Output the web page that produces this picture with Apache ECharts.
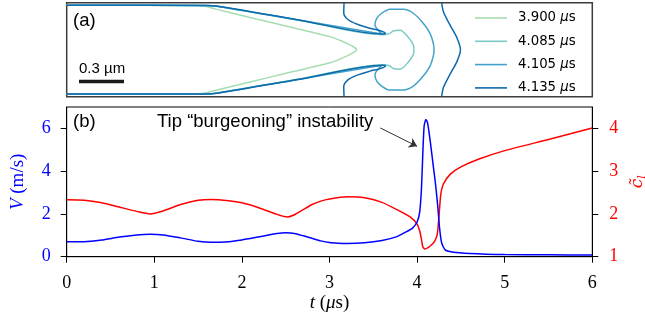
<!DOCTYPE html>
<html lang="en">
<head>
    <meta charset="UTF-8">
    <title>Tip burgeoning instability</title>
    <script src="https://cdn.jsdelivr.net/npm/echarts@6/dist/echarts.min.js"></script>
</head>
<body style="margin:0">
    <div id="echarts" style="width:645px;height:322px"></div>
<script>
    // ---- (b) crack speed V and c~_l against t (us)
    const vTime = [0, 0.2, 0.4, 0.6, 0.8, 0.95, 1.1, 1.3, 1.5, 1.65, 1.85, 2.0, 2.2, 2.4, 2.5, 2.6, 2.7, 2.8, 2.9, 3.0, 3.1, 3.2, 3.4, 3.6, 3.77, 3.88, 3.95, 4.0, 4.03, 4.05, 4.065, 4.08, 4.1, 4.12, 4.15, 4.18, 4.21, 4.235, 4.255, 4.28, 4.32, 4.4, 4.6, 5.0, 5.5, 6.0];
    const vSpeed = [0.70, 0.70, 0.78, 0.92, 1.02, 1.05, 1.02, 0.88, 0.72, 0.67, 0.70, 0.78, 0.93, 1.08, 1.12, 1.09, 0.98, 0.86, 0.74, 0.66, 0.63, 0.62, 0.65, 0.76, 0.94, 1.17, 1.35, 1.62, 2.1, 3.2, 4.8, 6.1, 6.42, 6.25, 5.4, 4.4, 3.4, 2.4, 1.4, 0.65, 0.32, 0.22, 0.15, 0.10, 0.09, 0.08];
    const cTime = [0, 0.2, 0.4, 0.6, 0.8, 0.95, 1.1, 1.3, 1.5, 1.65, 1.85, 2.0, 2.2, 2.4, 2.52, 2.6, 2.7, 2.8, 2.9, 3.0, 3.2, 3.4, 3.6, 3.77, 3.92, 4.0, 4.03, 4.05, 4.065, 4.09, 4.15, 4.2, 4.23, 4.25, 4.27, 4.3, 4.38, 4.5, 4.7, 5.0, 5.5, 6.0];
    const cTilde = [2.33, 2.32, 2.26, 2.16, 2.06, 2.0, 2.07, 2.22, 2.32, 2.34, 2.31, 2.26, 2.14, 1.99, 1.93, 1.98, 2.10, 2.22, 2.30, 2.35, 2.40, 2.38, 2.27, 2.10, 1.93, 1.76, 1.60, 1.40, 1.23, 1.18, 1.25, 1.36, 1.52, 1.95, 2.45, 2.70, 2.93, 3.10, 3.28, 3.48, 3.74, 4.01];
    const timeTicks = [0, 1, 2, 3, 4, 5, 6];
    const speedTicks = [0, 2, 4, 6];
    const cTicks = [1, 2, 3, 4];
    // arrow of the annotation, [t, V]
    const arrowFrom = [3.58, 6.02];
    const arrowTo = [4.0, 5.16];

    // ---- (a) crack contours, upper half in um (lower half is the mirror image)
    const contourTimes = ['3.900 μs', '4.085 μs', '4.105 μs', '4.135 μs'];
    const contourColors = ['#a6dcb2', '#7bccc4', '#43a2ca', '#0d6aad'];
    const c3900Upper = [[0, 0.296], [0.855, 0.295], [0.922, 0.289], [0.989, 0.272], [1.222, 0.215], [1.489, 0.151], [1.755, 0.087], [1.844, 0.053], [1.902, 0.025], [1.933, 0]];
    const c4085Upper = [[0, 0.296], [0.93, 0.295], [1.0, 0.289], [1.555, 0.195], [2.115, 0.100], [2.155, 0.109], [2.177, 0.125], [2.222, 0.130], [2.277, 0.083], [2.311, 0.031], [2.315, 0]];
    const c4105Upper = [[0, 0.296], [0.93, 0.295], [1.0, 0.290], [1.555, 0.196], [2.102, 0.104], [2.075, 0.131], [2.055, 0.165], [2.067, 0.209], [2.1, 0.243], [2.155, 0.269], [2.244, 0.269], [2.311, 0.243], [2.377, 0.176], [2.422, 0.109], [2.444, 0.043], [2.449, 0]];
    const c4135Upper = [[0, 0.296], [0.93, 0.295], [1.0, 0.291], [1.555, 0.197], [2.11, 0.104], [2.125, 0.108], [2.09, 0.126], [2.022, 0.143], [1.933, 0.171], [1.875, 0.201], [1.847, 0.245], [1.849, 0.313]];
    const c4135Front = [[2.5, 0.313], [2.512, 0.251], [2.555, 0.165], [2.602, 0.078], [2.625, 0]];
    const scaleBarX = [0.082, 0.382];
    const scaleBarY = -0.212;
    const panelA = { width: 3.504, half: 0.3133 };

    const mirror = pts => pts.map(p => [p[0], -p[1]]);
    const closeProfile = upper => upper.concat(mirror(upper.slice(0, -1)).reverse());
    const pairs = (xs, ys) => xs.map((x, i) => [x, ys[i]]);

    const serif = 'Liberation Serif';
    const sans = 'Liberation Sans';
    const blue = '#0000ff';
    const red = '#ff0000';

    function contour(name, data) {
        const color = contourColors[contourTimes.indexOf(name)];
        return {
            name: name, type: 'line', xAxisIndex: 1, yAxisIndex: 2,
            data: data, color: color, symbol: 'none', smooth: 0.3,
            lineStyle: { color: color, width: 1.5 }, silent: true
        };
    }

    let myChart = echarts.init(document.getElementById('echarts'));

    let option = {
        animation: false,
        grid: [
            { left: 66.7, top: 107, width: 525.6, height: 149.7, show: true, borderColor: '#000', borderWidth: 1, outerBoundsMode: 'none', containLabel: false },
            { left: 66.7, top: 2.7, width: 525.6, height: 94, show: true, borderColor: '#3c3c3c', borderWidth: 1.5, outerBoundsMode: 'none', containLabel: false }
        ],
        legend: {
            data: contourTimes,
            left: 470, top: 6, orient: 'vertical',
            icon: 'rect', itemWidth: 32, itemHeight: 1.6, itemGap: 9.3,
            selectedMode: false,
            formatter: n => n.replace('μ', '{i|μ}'),
            textStyle: {
                fontFamily: 'DejaVu Sans', fontSize: 13.3, color: '#000', lineHeight: 14,
                padding: [0, 0, 0, 6],
                rich: { i: { fontFamily: 'DejaVu Sans', fontStyle: 'italic', fontSize: 13.3, color: '#000' } }
            }
        },
        xAxis: [
            {
                gridIndex: 0, type: 'value', min: 0, max: 6, interval: 1,
                axisLine: { lineStyle: { color: '#000', width: 1 } },
                axisTick: { customValues: timeTicks, length: 6, lineStyle: { color: '#000' } },
                axisLabel: { customValues: timeTicks, margin: 18, color: '#000', fontFamily: serif, fontSize: 18 },
                splitLine: { show: false },
                name: '{i|t} ({i|μ}s)', nameLocation: 'middle', nameGap: 37,
                nameTextStyle: {
                    fontFamily: serif, fontSize: 19, color: '#000',
                    rich: { i: { fontFamily: serif, fontStyle: 'italic', fontSize: 19, color: '#000' } }
                }
            },
            { gridIndex: 1, type: 'value', min: 0, max: panelA.width, show: false }
        ],
        yAxis: [
            {
                gridIndex: 0, type: 'value', min: 0, max: 7, interval: 2, position: 'left',
                axisLine: { show: true, lineStyle: { color: '#000', width: 1 } },
                axisTick: { show: true, customValues: speedTicks, length: 6, lineStyle: { color: '#000' } },
                axisLabel: { customValues: speedTicks, margin: 16, color: blue, fontFamily: serif, fontSize: 18 },
                splitLine: { show: false },
                name: '{i|V} (m/s)', nameLocation: 'middle', nameGap: 39, nameRotate: 90,
                nameTextStyle: {
                    fontFamily: serif, fontSize: 19, color: blue,
                    rich: { i: { fontFamily: serif, fontStyle: 'italic', fontSize: 19, color: blue } }
                }
            },
            {
                gridIndex: 0, type: 'value', min: 1, max: 4.5, interval: 1, position: 'right',
                axisLine: { show: true, lineStyle: { color: '#000', width: 1 } },
                axisTick: { show: true, customValues: cTicks, length: 6, lineStyle: { color: '#000' } },
                axisLabel: { customValues: cTicks, margin: 17, color: red, fontFamily: serif, fontSize: 18 },
                splitLine: { show: false },
                name: '{i|c\u0303}{s|l}', nameLocation: 'middle', nameGap: 34, nameRotate: 90,
                nameTextStyle: {
                    color: red,
                    rich: {
                        i: { fontFamily: 'DejaVu Serif', fontStyle: 'italic', fontSize: 17, color: red },
                        s: { fontFamily: 'DejaVu Serif', fontStyle: 'italic', fontSize: 11, color: red, padding: [9, 0, 0, 0] }
                    }
                }
            },
            { gridIndex: 1, type: 'value', min: -panelA.half, max: panelA.half, show: false }
        ],
        graphic: [
            { type: 'text', x: 73, y: 20.5, style: { text: '(a)', fontFamily: sans, fontSize: 18.5, fill: '#000', verticalAlign: 'middle' } },
            { type: 'text', x: 79, y: 69, style: { text: '0.3 µm', fontFamily: sans, fontSize: 15, fill: '#000', verticalAlign: 'middle' } },
            { type: 'text', x: 73, y: 122, style: { text: '(b)', fontFamily: sans, fontSize: 18.5, fill: '#000', verticalAlign: 'middle' } },
            { type: 'text', x: 157, y: 122, style: { text: 'Tip \u201cburgeoning\u201d instability', fontFamily: sans, fontSize: 18.5, fill: '#000', verticalAlign: 'middle' } }
        ],
        series: [
            contour('3.900 μs', closeProfile(c3900Upper)),
            contour('4.085 μs', closeProfile(c4085Upper)),
            contour('4.105 μs', closeProfile(c4105Upper)),
            contour('4.135 μs', c4135Upper),
            contour('4.135 μs', mirror(c4135Upper)),
            contour('4.135 μs', closeProfile(c4135Front)),
            {
                name: 'scale', type: 'line', xAxisIndex: 1, yAxisIndex: 2, symbol: 'none', silent: true,
                data: scaleBarX.map(x => [x, scaleBarY]),
                lineStyle: { color: '#1a1a1a', width: 3.5, cap: 'butt' }
            },
            {
                name: 'c', type: 'line', xAxisIndex: 0, yAxisIndex: 1, symbol: 'none', silent: true,
                data: pairs(cTime, cTilde), smooth: 0.2,
                lineStyle: { color: red, width: 1.5 }
            },
            {
                name: 'V', type: 'line', xAxisIndex: 0, yAxisIndex: 0, symbol: 'none', silent: true,
                data: pairs(vTime, vSpeed), smooth: 0.2,
                lineStyle: { color: blue, width: 1.5 },
                markLine: {
                    silent: true, symbol: ['none', 'arrow'], symbolSize: [8, 8],
                    label: { show: false },
                    lineStyle: { color: '#333', width: 1, type: 'solid' },
                    data: [[{ coord: arrowFrom }, { coord: arrowTo }]]
                }
            }
        ]
    };
    myChart.setOption(option);
</script>
</body>
</html>
